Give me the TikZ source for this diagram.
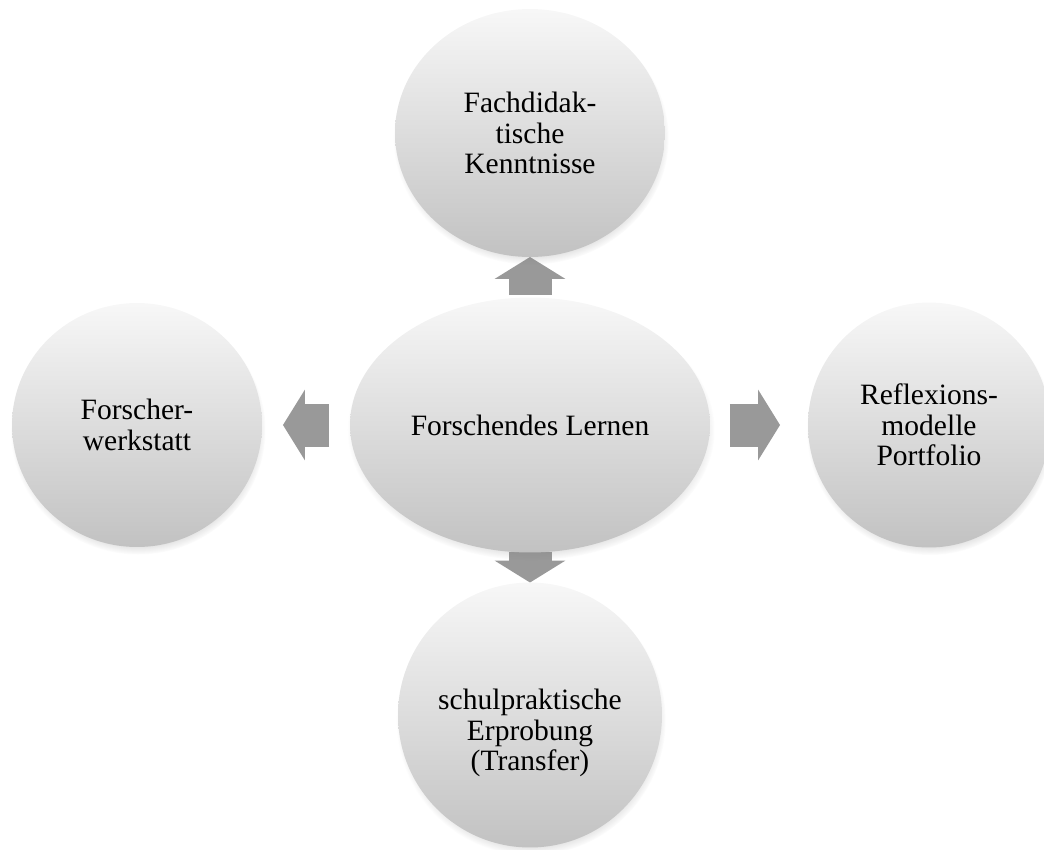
\documentclass[tikz,border=0pt]{standalone}
\usepackage{fontspec}
\setmainfont{Liberation Serif}
\usepackage{tikz}
\usetikzlibrary{shapes.geometric, arrows.meta, shadows, backgrounds}

\begin{document}
\begin{tikzpicture}[
	x=0.02cm, y=-0.02cm,
	kreis/.style={draw=none, ellipse, inner sep=0pt, outer sep=0pt, align=center, top color=black!3, bottom color=black!24, circular drop shadow={shadow xshift=0.02cm, shadow yshift=-0.1cm, shadow scale=1.02, opacity=0.45}, font=\fontsize{16.8}{17.4}\selectfont},
	pfeil/.style={line width=0.86cm, draw=black!40, -{Triangle[length=0.44cm, width=1.4cm]}}
	]
	\useasboundingbox (0,0) rectangle (1044,849);

	% Zentrum
	\node[kreis, minimum width=7.2cm, minimum height=5.1cm] (lernen) at (530,425) {Forschendes Lernen};

	% Aeussere Kreise
	\node[kreis, minimum width=5.4cm, minimum height=4.96cm]  (fach)      at (530,133) {Fachdidak-\\tische\\Kenntnisse};
	\node[kreis, minimum width=5.0cm, minimum height=4.88cm]  (forscher)  at (137,425) {Forscher-\\werkstatt};
	\node[kreis, minimum width=4.84cm, minimum height=4.9cm]  (reflexion) at (929,425) {Reflexions-\\modelle\\Portfolio};
	\node[kreis, minimum width=5.28cm, minimum height=5.3cm, label={[font=\fontsize{16.8}{17.4}\selectfont, align=center, yshift=-0.36cm]center:schulpraktische\\Erprobung\\(Transfer)}] (schule) at (530,715) {};

	% Pfeile
	\begin{scope}[on background layer]
		\draw[pfeil, shorten <=0.05cm] (lernen) -- (fach);
		\draw[pfeil] (lernen) -- (schule);
		\draw[pfeil, shorten <=0.42cm, shorten >=0.42cm] (lernen) -- (forscher);
		\draw[pfeil, shorten <=0.4cm, shorten >=0.56cm] (lernen) -- (reflexion);
	\end{scope}

\end{tikzpicture}
\end{document}
